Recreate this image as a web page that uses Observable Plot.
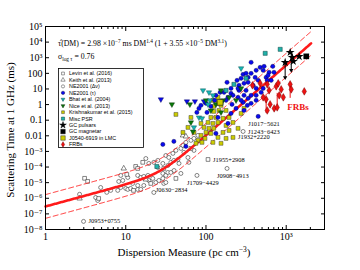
<!DOCTYPE html>
<html><head><meta charset="utf-8">
<script src="https://cdn.jsdelivr.net/npm/d3@7"></script>
<script src="https://cdn.jsdelivr.net/npm/@observablehq/plot@0.6"></script>
<style>body{margin:0;background:#fff;}</style>
</head><body>
<script>
// ---------------- data (DM in pc cm^-3, tau in ms at 1 GHz) ----------------
const levin = [[3.07,1.9e-5],[3.35,1.2e-5],[4.6,9.7e-7],[10.3,3.35e-5],[13.3,1.09e-4],[14.1,8.1e-5],[16.3,2.0e-4],[42.2,1.86e-5],[106,3.05e-4],[12.5,3.2e-6],[29.8,8.1e-5],[64.9,1.56e-3],[20.5,8.9e-6]];
const keith = [[2.66,9.7e-7],[9.44,8.1e-5],[51.6,0.0106],[56.2,9.1e-3],[17.8,1.6e-5]];
const ne2001DeltaNu = [[2.66,1.8e-6],[4.22,1.12e-6],[4.47,7.2e-7],[4.87,4.9e-6],[5.8,2.4e-6],[6.49,3.2e-6],[2.98,3.3e-8],[7.95,3.2e-6],[8.18,1.19e-5],[8.66,2.9e-5],[9.18,1.38e-5],[8.66,4.9e-6],[10,4.25e-6],[10.6,3.7e-6],[11.5,4.25e-6],[14.1,3.7e-6],[15.4,3.7e-6],[10.6,2.15e-5],[14.1,2.9e-5],[15.4,2.15e-5],[16.8,2.5e-5],[18.9,2.9e-5],[19.4,1.38e-5],[19.4,1.7e-4],[12.2,8.9e-6],[14.1,6.6e-6],[16.8,6.6e-6],[22.4,2.0e-4],[25.1,2.65e-4],[25.1,9.4e-5],[29.0,1.7e-4],[33.5,1.26e-4],[31.6,5.5e-4],[34.4,4.1e-4],[38.7,7.5e-4],[42.2,1.16e-3],[48.7,1.56e-3],[36.5,2.0e-4],[39.8,2.65e-4],[44.7,3.05e-4],[46.1,1.7e-4],[29.0,3.9e-5],[31.6,2.9e-5],[33.5,4.5e-5],[36.5,4.5e-5],[48.7,3.9e-5],[51.6,2.4e-3],[56.2,3.8e-3],[64.9,5.1e-3],[70.8,6.8e-3],[79.5,0.0106],[70.8,1.16e-3],[21.7,1.86e-5],[23.7,1.03e-5],[25.9,1.38e-5],[29.0,1.86e-5],[29.8,8.9e-6],[31.6,1.03e-5],[22.4,2.35e-6],[17.8,3.5e-4],[61.2,2.0e-4],[59.6,4.1e-4],[53.1,8.7e-4],[77.2,2.9e-5],[183,8.1e-5],[290,0.019],[40,6e-5]];
const ne2001Tau = [[29.0,2.8e-3],[39.8,4.4e-3],[56.2,2.1e-3],[168,6.05],[205,5.2],[258,8.1],[298,3.9],[335,2.5],[365,1.2],[290,1.39],[251,2.9],[422,3.9],[237,0.57],[298,0.42],[205,0.27],[447,0.175],[133,3.9],[150,6.05],[473,242],[516,156],[612,116],[704,116],[562,55],[447,35.6],[335,26.5],[274,48],[387,17],[258,17],[205,10.9],[217,3.9],[188,2.9],[316,8.1],[422,10.9],[365,3.9],[487,6.05],[183,26.5],[290,86],[335,55],[530,280],[365,100],[410,55],[316,100],[593,74],[649,35.6],[298,22.9],[251,10.9],[141,0.15],[188,0.062],[133,0.0142],[81.8,0.57],[103,0.315],[86.6,0.89],[100,1.2],[115,0.77],[77,0.315],[128,1.86],[178,1.86],[211,1.03],[274,1.86],[328,0.89],[422,1.86],[516,10.9],[580,35.6],[680,280],[365,507],[422,156],[244,35.6]];
const ne2001TauLimits = [[27.4,2.16],[57.9,1.6],[72.8,1.6],[94.4,1.6]];
const bhat = [[91.8,8.1],[109,6.05],[112,1.86],[106,1.03],[81.8,0.15],[89.2,0.13],[70.8,0.0345],[122,3.9],[274,209]];
const nice = [[37.6,1.03],[63,1.03],[154,8.1],[100,1.86],[133,1.03],[163,1.86],[194,2.9],[237,1.86],[274,10.9],[154,0.315],[115,0.42],[64.9,0.072],[68.8,0.019]];
const krishnakumar = [[42.2,0.235],[125,0.77],[141,1.2],[125,0.365],[145,0.42],[115,0.15],[133,0.15],[106,0.072],[122,0.062],[141,0.072],[94.4,0.0345],[109,0.030],[125,0.030],[100,0.0165],[115,0.0142],[86.6,0.0106],[97.2,6.8e-3],[79.5,5.1e-3],[89.2,3.8e-3],[75,3.3e-3],[122,1.86],[141,2.9],[154,0.89],[178,0.42],[163,0.13],[194,0.15],[178,0.046],[217,0.072],[194,0.022],[163,0.0165],[141,7.9e-3],[178,6.8e-3],[122,3.8e-3],[154,3.3e-3],[251,0.030],[274,0.27],[298,0.57],[59.6,0.0345],[70.8,0.0165],[86.6,0.062],[64.9,0.15],[51.6,0.0165],[217,7.9e-3]];
const miscPSR = [[547,1914],[841,3450],[24.4,1.09e-4],[316,48],[223,19.7],[178,8.1]];
const gcPulsars = [[1120,2218],[1190,1057],[970,507],[1450,1225],[1225,588]];
const gcLimitEnds = [[970,55],[1155,156]];
const gcBarDM = [970,1155], gcBarLo = [55,156], gcBarHi = [507,2218];
const gcMagnetar = [[1778,1225]];
const lmcPulsar = [[150,1.39]];
const frbs = [[380,17],[473,22.9],[580,19.7],[612,8.1],[750,14.7],[795,22.9],[866,9.4],[1120,19.7],[1155,9.4],[1680,7.0],[818,3.9],[920,2.9],[562,2.16],[516,2.9],[630,1.03],[580,0.42],[708,0.57],[772,0.66]];
const frbBarDM = [562,772,1120], frbBarLo = [0.27,0.66,2.5], frbBarHi = [2.16,5.2,17];
const labelsRight = [["J1243−6423",290,0.019],["J1932+2220",217,7.9e-3],["J1955+2908",106,3.05e-4],["J0953+0755",2.98,3.3e-8]];
const labelsBelow = [["J1017−5621",447,0.175],["J0908−4913",183,8.1e-5],["J1709−4429",77.2,2.9e-5],["J0630−2834",31.6,1.03e-5]];
const legendLabels = ["Levin et al. (2016)","Keith et al. (2013)","NE2001 (Δν)","NE2001 (τ)","Bhat et al. (2004)","Nice et al. (2013)","Krishnakumar et al. (2015)","Misc PSR","GC pulsars","GC magnetar","J0540-6919 in LMC","FRBs"];
// fit parameters (as printed on the chart)
const fitA = 2.98e-7, fitAlpha = 1.4, fitB = 3.55e-5, fitBeta = 3.1, sigmaLogTau = 0.76;
const xMajor = [1,10,100,1000];
const xTickLabels = ["1","10","100","10³"];
const xMinor = [2,3,4,5,6,7,8,9,20,30,40,50,60,70,80,90,200,300,400,500,600,700,800,900,2000,3000];
const yMajor = [1e-8,1e-7,1e-6,1e-5,1e-4,1e-3,1e-2,1e-1,1,10,100,1e3,1e4,1e5];
const yTickLabels = ["10⁻⁸","10⁻⁷","10⁻⁶","10⁻⁵","10⁻⁴","10⁻³","0.01","0.1","1","10","100","10³","10⁴","10⁵"];

// ---------------- helpers ----------------
const serif = "'Liberation Serif','DejaVu Serif',serif";
const pts = a => a.map(([dm, tau]) => ({dm, tau}));
const triDown = {draw(ctx, size){ const y = -Math.sqrt(size/(Math.sqrt(3)*3)); ctx.moveTo(0,-y*2); ctx.lineTo(Math.sqrt(3)*y,y); ctx.lineTo(-Math.sqrt(3)*y,y); ctx.closePath(); }};
const fitDM = d3.range(0, 3.311, 0.01).map(e => 10 ** e);
const fitLine = fitDM.map(dm => ({dm, tau: fitA * dm ** fitAlpha * (1 + fitB * dm ** fitBeta)}));
const fitUp = fitLine.map(d => ({dm: d.dm, tau: d.tau * 10 ** sigmaLogTau}));
const fitLo = fitLine.map(d => ({dm: d.dm, tau: d.tau * 10 ** -sigmaLogTau}));
const bars = (dm, lo, hi) => dm.map((d, i) => ({dm: d, lo: lo[i], hi: hi[i]}));
const labs = a => a.map(([name, dm, tau]) => ({name, dm, tau}));
const blank = () => "";
const xy = {x: "dm", y: "tau"};

const plot = Plot.plot({
  width: 360, height: 270,
  marginTop: 26, marginBottom: 41, marginLeft: 45, marginRight: 36,
  style: {fontFamily: serif, fontSize: "10px", background: "white", color: "black", overflow: "visible"},
  x: {type: "log", domain: [1, 3000], label: null},
  y: {type: "log", domain: [1e-8, 1e5], label: null},
  marks: [
    // open markers
    Plot.dot(pts(ne2001DeltaNu), {...xy, symbol: "circle", r: 2.0, fill: "white", stroke: "#222", strokeWidth: 0.55}),
    Plot.dot(pts(levin), {...xy, symbol: "square", r: 2.1, fill: "white", stroke: "#222", strokeWidth: 0.55}),
    Plot.dot(pts(keith), {...xy, symbol: "triangle", r: 2.0, fill: "white", stroke: "#222", strokeWidth: 0.55}),
    // fit
    Plot.line(fitUp, {...xy, stroke: "#ff1a1a", strokeWidth: 0.9, strokeDasharray: "5,3"}),
    Plot.line(fitLo, {...xy, stroke: "#ff1a1a", strokeWidth: 0.9, strokeDasharray: "5,3"}),
    Plot.line(fitLine, {...xy, stroke: "#ff1a1a", strokeWidth: 2.6}),
    // filled markers
    Plot.dot(pts(krishnakumar), {...xy, symbol: "square", r: 2.2, fill: "#cccc00", stroke: "#333", strokeWidth: 0.45}),
    Plot.dot(pts(ne2001Tau), {...xy, symbol: "circle", r: 2.1, fill: "#0a0aee", stroke: "#000040", strokeWidth: 0.4}),
    Plot.dot(pts(ne2001TauLimits), {...xy, symbol: triDown, r: 2.0, fill: "#0a0aee", stroke: "#000040", strokeWidth: 0.4}),
    Plot.dot(pts(nice), {...xy, symbol: triDown, r: 2.0, fill: "#0a7a0a", stroke: "#002000", strokeWidth: 0.4}),
    Plot.dot(pts(bhat), {...xy, symbol: triDown, r: 2.0, fill: "#17b5b5", stroke: "#004040", strokeWidth: 0.4}),
    Plot.dot(pts(miscPSR), {...xy, symbol: "square", r: 2.3, fill: "#20b2aa", stroke: "#003030", strokeWidth: 0.45}),
    Plot.dot(pts(lmcPulsar), {...xy, symbol: "square", r: 3.3, fill: "#cccc00", stroke: "#222", strokeWidth: 0.7}),
    // Galactic centre
    Plot.ruleX(bars(gcBarDM, gcBarLo, gcBarHi), {x: "dm", y1: "lo", y2: "hi", stroke: "black", strokeWidth: 1}),
    Plot.dot(pts(gcLimitEnds), {...xy, symbol: triDown, r: 1.6, fill: "black"}),
    Plot.dot(pts(gcPulsars), {...xy, symbol: "star", r: 2.8, fill: "black"}),
    Plot.dot(pts(gcMagnetar), {...xy, symbol: "square", r: 3.2, fill: "black"}),
    // FRBs
    Plot.ruleX(bars(frbBarDM, frbBarLo, frbBarHi), {x: "dm", y1: "lo", y2: "hi", stroke: "#ee1111", strokeWidth: 1}),
    Plot.dot(pts(frbs), {...xy, symbol: "diamond", r: 2.3, fill: "#ee1111", stroke: "#700000", strokeWidth: 0.45}),
    Plot.text([{dm: 1030, tau: 0.66, name: "FRBs"}], {...xy, text: "name", textAnchor: "start", fill: "#ee1111", fontWeight: "bold", fontSize: 9, fontFamily: serif}),
    // pulsar labels
    Plot.text(labs(labelsRight), {...xy, text: "name", dx: 5, textAnchor: "start", fontSize: 6.4, fontFamily: serif}),
    Plot.text(labs(labelsBelow), {...xy, text: "name", dx: -10, dy: 7.5, textAnchor: "start", fontSize: 6.4, fontFamily: serif}),
    // axes (ticks inward on all sides)
    Plot.frame({stroke: "black", strokeWidth: 1}),
    Plot.axisX({ticks: xMajor, tickSize: -4, tickFormat: blank, label: null}),
    Plot.axisX({ticks: xMinor, tickSize: -2, tickFormat: blank, label: null}),
    Plot.axisX({anchor: "top", ticks: xMajor, tickSize: -4, tickFormat: blank, label: null}),
    Plot.axisX({anchor: "top", ticks: xMinor, tickSize: -2, tickFormat: blank, label: null}),
    Plot.axisX({ticks: xMajor, tickSize: 0, tickPadding: 3, tickFormat: d => xTickLabels[xMajor.indexOf(d)], label: null, fontSize: 10}),
    Plot.axisY({ticks: yMajor, tickSize: -4, tickFormat: blank, label: null}),
    Plot.axisY({anchor: "right", ticks: yMajor, tickSize: -4, tickFormat: blank, label: null}),
    Plot.axisY({ticks: yMajor, tickSize: 0, tickPadding: 3, tickFormat: d => yTickLabels[yMajor.indexOf(d)], label: null, fontSize: 10})
  ]
});
document.body.appendChild(plot);

// ---------------- text decorations ----------------
const svg = d3.select(plot);
function rich(x, y, parts, size, anchor = "start", rotate = 0) {
  const t = svg.append("text").attr("x", x).attr("y", y).attr("font-size", size)
    .attr("font-family", serif).attr("text-anchor", anchor).attr("fill", "black");
  if (rotate) t.attr("transform", `rotate(${rotate},${x},${y})`);
  let shift = 0;
  for (const [s, k] of parts) {
    const target = k === "sup" ? -size * 0.38 : k === "sub" ? size * 0.22 : 0;
    t.append("tspan").attr("dy", target - shift).attr("font-size", k ? size * 0.68 : size).text(s);
    shift = target;
  }
  return t;
}
rich(58, 46, [["τ̂(DM) = 2.98 ×10"], ["−7", "sup"], [" ms DM"], ["1.4", "sup"], [" (1 + 3.55 ×10"], ["−5", "sup"], [" DM"], ["3.1", "sup"], [")"]], 7.8);
rich(58, 59, [["σ"], ["log τ", "sub"], [" = 0.76"]], 7.8);
rich(184, 256, [["Dispersion Measure (pc cm"], ["−3", "sup"], [")"]], 11, "middle");
rich(14, 130, [["Scattering Time at 1 GHz (ms)"]], 11, "middle", -90);

// legend
const lg = svg.append("g");
lg.append("rect").attr("x", 58.5).attr("y", 68.5).attr("width", 85).attr("height", 79)
  .attr("fill", "white").attr("stroke", "black").attr("stroke-width", 0.8);
const legendStyles = [
  [d3.symbolSquare, 8, "white", "#222"], [d3.symbolTriangle, 8, "white", "#222"], [d3.symbolCircle, 8, "white", "#222"],
  [d3.symbolCircle, 9, "#0a0aee", "#000040"], [triDown, 6, "#17b5b5", "#004040"], [triDown, 6, "#0a7a0a", "#002000"],
  [d3.symbolSquare, 8, "#cccc00", "#333"], [d3.symbolSquare, 10, "#20b2aa", "#003030"], [d3.symbolStar, 14, "black", "black"],
  [d3.symbolSquare, 20, "black", "black"], [d3.symbolSquare, 20, "#cccc00", "#222"], [d3.symbolDiamond, 9, "#ee1111", "#700000"]
];
legendLabels.forEach((lab, i) => {
  const y = 73.5 + i * 6.45;
  const [type, size, fill, stroke] = legendStyles[i];
  lg.append("path").attr("d", d3.symbol(type, size)()).attr("transform", `translate(63,${y})`)
    .attr("fill", fill).attr("stroke", stroke).attr("stroke-width", 0.45);
  lg.append("text").attr("x", 69).attr("y", y + 1.9).attr("font-size", 5.4).attr("text-anchor", "start")
    .attr("font-family", "'Liberation Sans','DejaVu Sans',sans-serif").attr("fill", "black").text(lab);
});
</script>
</body></html>
